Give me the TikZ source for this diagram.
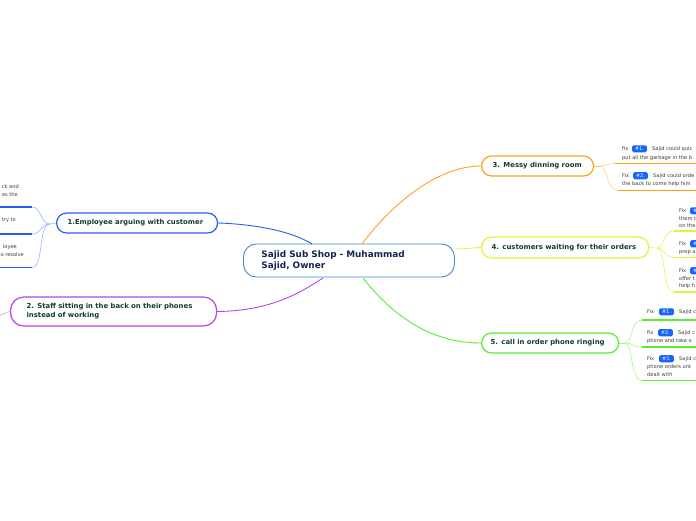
\documentclass[tikz,border=0pt]{standalone}
\usepackage{fontspec}
\setmainfont{DejaVu Sans}
\begin{document}
\begin{tikzpicture}[x=1pt,y=-1pt,
  mainbox/.style={draw, line width=1.2pt, fill=white, text=maintext, font=\fontsize{6.9}{8}\selectfont\bfseries, align=left, inner ysep=0pt, anchor=west},
  conn/.style={line width=0.9pt},
  leafc/.style={line width=0.5pt},
  under/.style={line width=1.7pt},
  leaftext/.style={font=\fontsize{5.1}{6}\selectfont, text=leafgray, inner sep=0pt, anchor=base west},
  leaftexte/.style={font=\fontsize{5.1}{6}\selectfont, text=leafgray, inner sep=0pt, anchor=base east},
  badge/.style={fill=badgeblue, text=white, rounded corners=1.5pt, font=\fontsize{4.8}{5}\selectfont, inner xsep=3pt, inner ysep=1.8pt, anchor=west}
]
\definecolor{maintext}{HTML}{0F3D2E}
\definecolor{centertext}{HTML}{13244F}
\definecolor{centerborder}{HTML}{3C8CD0}
\definecolor{leafgray}{HTML}{3A3A3A}
\definecolor{badgeblue}{HTML}{1565FF}
\definecolor{cblue}{HTML}{2A5CF5}
\definecolor{cbluel}{HTML}{8AA8FF}
\definecolor{cpurple}{HTML}{B443F2}
\definecolor{corange}{HTML}{FFA11F}
\definecolor{corangel}{HTML}{FFC870}
\definecolor{cyellow}{HTML}{DDF53A}
\definecolor{cgreen}{HTML}{5CEB34}
\definecolor{cgreenl}{HTML}{9CF57A}

\useasboundingbox (0,0) rectangle (696,520);
\clip (0,0) rectangle (696,520);

% central node
\node[draw=centerborder, line width=0.9pt, rounded corners=13pt, fill=white, text=centertext,
  font=\fontsize{8.9}{11}\selectfont\bfseries, align=left, anchor=west,
  inner xsep=18pt, inner ysep=0pt, minimum height=33pt, text width=175pt] (c) at (243,260.5)
  {Sajid Sub Shop - Muhammad\\Sajid, Owner};

% main topic nodes
\node[mainbox, draw=cblue, rounded corners=10pt, minimum height=20pt, inner xsep=11pt, text width=139pt] (n1) at (56,223) {1.Employee arguing with customer};
\node[mainbox, draw=cpurple, rounded corners=13pt, minimum height=29pt, inner xsep=16pt, text width=174pt, font=\fontsize{6.9}{9}\selectfont\bfseries] (n2) at (10,311.5) {2. Staff sitting in the back on their phones\\instead of working};
\node[mainbox, draw=corange, rounded corners=10pt, minimum height=20pt, inner xsep=11pt, text width=90pt] (n3) at (481,166) {3. Messy dinning room};
\node[mainbox, draw=cyellow, rounded corners=10pt, minimum height=21pt, inner xsep=10pt, text width=147pt] (n4) at (481,247.5) {4. customers waiting for their orders};
\node[mainbox, draw=cgreen, rounded corners=10pt, minimum height=20pt, inner xsep=9pt, text width=119pt] (n5) at (481,343) {5. call in order phone ringing};

% connectors from centre
\coordinate (c1) at (312,244);
\coordinate (c2) at (323,278);
\coordinate (c3) at (362,244);
\coordinate (c4) at (454,249);
\coordinate (c5) at (363,278);
\draw[conn, cblue] (n1.east) .. controls (250,224) and (290,230) .. (c1);
\draw[conn, cpurple] (n2.east) .. controls (270,311) and (300,293) .. (c2);
\draw[conn, corange] (c3) .. controls (395,200) and (440,166) .. (n3.west);
\draw[conn, cyellow] (c4) .. controls (465,249) and (470,248) .. (n4.west);
\draw[conn, cgreen] (c5) .. controls (400,325) and (440,343) .. (n5.west);

% ---- leaves of node 1 (left)
\coordinate (j1) at (50,224);
\draw[leafc, cbluel] (n1.west) -- (j1);
\coordinate (u11) at (32,207); \coordinate (u11s) at (-2,207);
\coordinate (u12) at (32,234); \coordinate (u12s) at (-2,234);
\coordinate (u13) at (32,267.5); \coordinate (u13s) at (-2,267.5);
\draw[leafc, cbluel] (j1) .. controls (40,224) and (42,207) .. (u11);
\draw[leafc, cbluel] (j1) .. controls (40,224) and (42,234) .. (u12);
\draw[leafc, cbluel] (j1) .. controls (38,224) and (44,267.5) .. (u13);
\draw[under, cblue] (u11) -- (u11s);
\draw[under, cblue] (u12) -- (u12s);
\draw[under, cblue] (u13) -- (u13s);
\node[leaftexte] (t111) at (19,188) {ck and};
\node[leaftexte] (t112) at (18,196) {es the};
\node[leaftexte] (t121) at (16,221.5) {try to};
\node[leaftexte] (t131) at (17,248.5) {loyee};
\node[leaftexte] (t132) at (24,256.5) {o resolve};

% ---- node 2 stub to the left
\coordinate (j2) at (-2,316);
\draw[leafc, cpurple!60] (n2.west) .. controls (5,312) and (2,315) .. (j2);

% ---- leaves of node 3
\coordinate (j3) at (600,166);
\draw[leafc, corangel] (n3.east) -- (j3);
\coordinate (u31) at (615,163.5); \coordinate (u31e) at (700,163.5);
\coordinate (u32) at (618,190.5); \coordinate (u32e) at (700,190.5);
\draw[leafc, corangel] (j3) .. controls (606,166) and (608,163.5) .. (u31);
\draw[leafc, corangel] (j3) .. controls (608,166) and (606,190.5) .. (u32);
\draw[under, corange] (u31) -- (u31e);
\draw[under, corange] (u32) -- (u32e);
\node[leaftext] (t311) at (622,150.5) {fix};
\node[badge] (b31) at (632,148.8) {\#1.};
\node[leaftext] (t312) at (652,150.5) {Sajid could quic};
\node[leaftext] (t313) at (622,159.5) {put all the garbage in the b};
\node[leaftext] (t321) at (622,177.5) {Fix};
\node[badge] (b32) at (633,175.8) {\#2.};
\node[leaftext] (t322) at (653,177.5) {Sajid could orde};
\node[leaftext] (t323) at (622,185.5) {the back to come help him};

% ---- leaves of node 4
\coordinate (j4) at (657,248);
\draw[leafc, cyellow] (n4.east) -- (j4);
\coordinate (u41) at (674,231); \coordinate (u41e) at (700,231);
\coordinate (u42) at (674,257.5); \coordinate (u42e) at (700,257.5);
\coordinate (u43) at (674,292); \coordinate (u43e) at (700,292);
\draw[leafc, cyellow] (j4) .. controls (665,248) and (662,231) .. (u41);
\draw[leafc, cyellow] (j4) .. controls (665,248) and (664,257.5) .. (u42);
\draw[leafc, cyellow] (j4) .. controls (666,248) and (662,292) .. (u43);
\draw[under, cyellow] (u41) -- (u41e);
\draw[under, cyellow] (u42) -- (u42e);
\draw[under, cyellow] (u43) -- (u43e);
\node[leaftext] (t411) at (679,212.5) {Fix};
\node[badge] (b41) at (690,210.8) {\#1.};
\node[leaftext] (t412) at (679,220.5) {them t};
\node[leaftext] (t413) at (679,227.5) {on the};
\node[leaftext] (t421) at (679,245.5) {Fix};
\node[badge] (b42) at (690,243.8) {\#2.};
\node[leaftext] (t422) at (679,253.5) {prep a};
\node[leaftext] (t431) at (679,272.5) {Fix};
\node[badge] (b43) at (690,270.8) {\#3.};
\node[leaftext] (t432) at (679,280) {offer t};
\node[leaftext] (t433) at (679,287) {help h};

% ---- leaves of node 5
\coordinate (j5) at (625,343);
\draw[leafc, cgreenl] (n5.east) -- (j5);
\coordinate (u51) at (642,320); \coordinate (u51e) at (700,320);
\coordinate (u52) at (642,347); \coordinate (u52e) at (700,347);
\coordinate (u53) at (642,380.5); \coordinate (u53e) at (700,380.5);
\draw[leafc, cgreenl] (j5) .. controls (633,343) and (630,320) .. (u51);
\draw[leafc, cgreenl] (j5) .. controls (633,343) and (632,347) .. (u52);
\draw[leafc, cgreenl] (j5) .. controls (633,343) and (630,380.5) .. (u53);
\draw[under, cgreen] (u51) -- (u51e);
\draw[under, cgreen] (u52) -- (u52e);
\draw[under, cgreen] (u53) -- (u53e);
\node[leaftext] (t511) at (647,313.5) {Fix};
\node[badge] (b51) at (659,311.8) {\#1.};
\node[leaftext] (t512) at (679,313.5) {Sajid c};
\node[leaftext] (t521) at (647,334.5) {fix};
\node[badge] (b52) at (658,332.8) {\#2.};
\node[leaftext] (t522) at (678,334.5) {Sajid c};
\node[leaftext] (t523) at (647,342.5) {phone and take o};
\node[leaftext] (t531) at (647,360.5) {Fix};
\node[badge] (b53) at (659,358.8) {\#3.};
\node[leaftext] (t532) at (679,360.5) {Sajid c};
\node[leaftext] (t533) at (647,368.5) {phone orders unt};
\node[leaftext] (t534) at (647,376) {dealt with};
\end{tikzpicture}
\end{document}
